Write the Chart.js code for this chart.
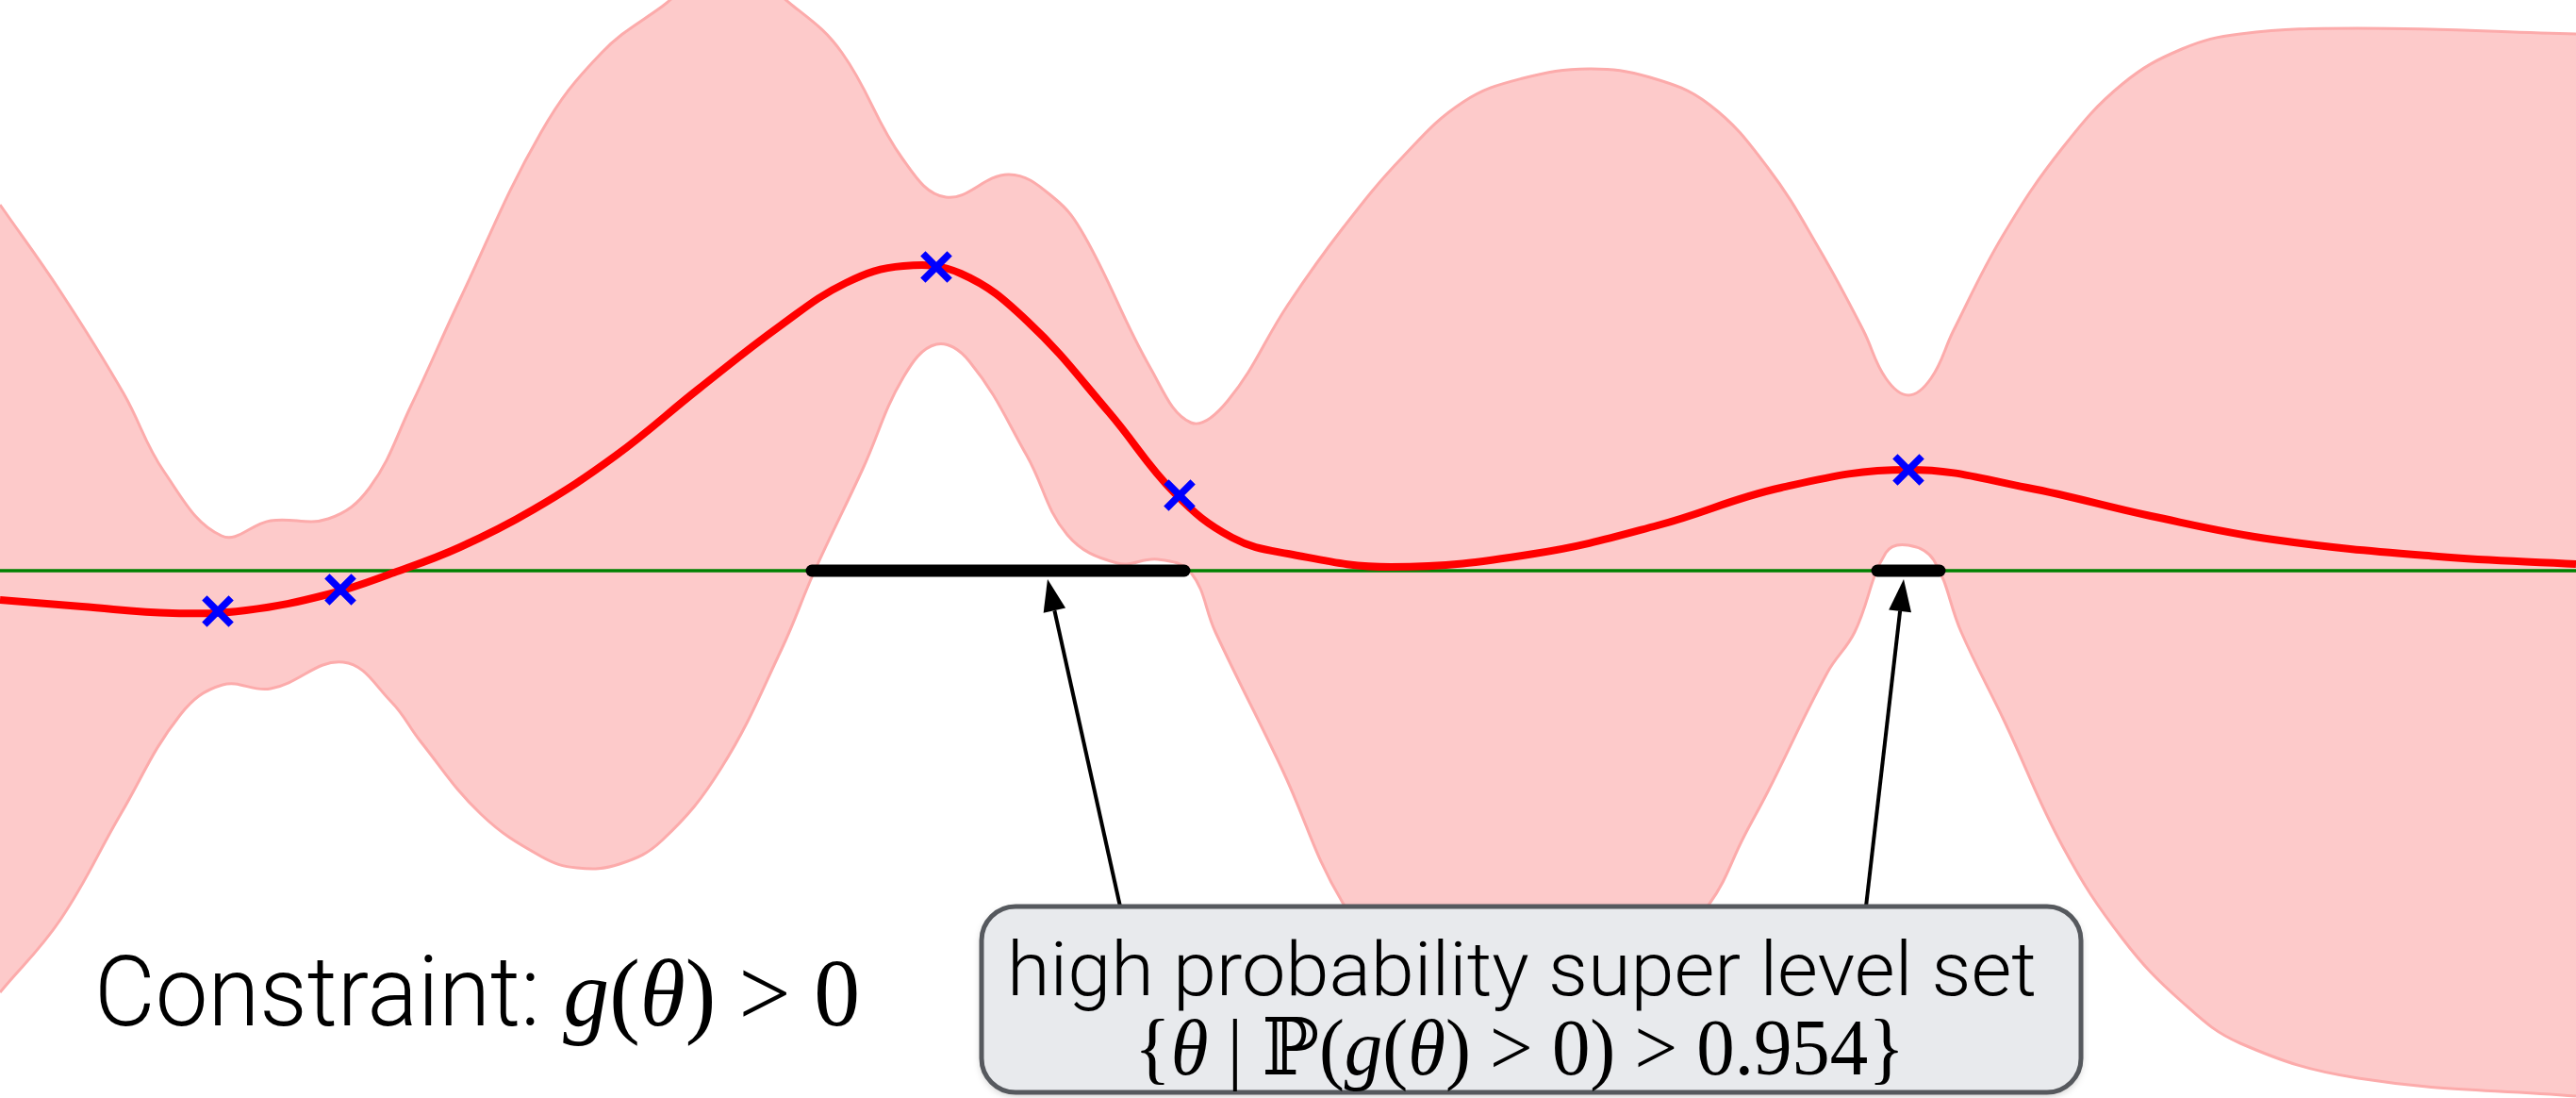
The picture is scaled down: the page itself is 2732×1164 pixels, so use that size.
<!DOCTYPE html>
<html>
<head>
<meta charset="utf-8">
<script src="https://cdn.jsdelivr.net/npm/chart.js@4.4.1/dist/chart.umd.min.js"></script>
<style>
  html, body { margin: 0; padding: 0; background: #fff; overflow: hidden; }
  #wrap { width: 2732px; height: 1164px; position: relative; }
</style>
</head>
<body>
<div id="wrap"><canvas id="gpChart"></canvas></div>
<script>
// GP posterior of the constraint g(theta)

// upper edge of the confidence band
const upperTheta = [0, 0.64, 1.31, 1.74, 2.35, 2.87, 3.48, 3.92, 4.36, 4.88, 5.74, 6.38, 7.02, 7.70, 8.42, 8.93, 9.57, 10.03, 10.70, 11.18, 11.50, 12.20, 12.63, 13.02, 13.66, 14.24, 14.88, 15.52, 16.15, 16.85, 17.50, 18.13, 18.75, 19.30, 19.76, 20.00, 20.24, 20.48, 20.72, 21.24, 21.88, 22.51, 23.14, 23.76, 25.01, 27.32];
const upperG = [3.88, 2.96, 1.88, 1.05, 0.37, 0.53, 0.55, 0.88, 1.75, 2.88, 4.65, 5.49, 5.98, 6.45, 5.98, 5.49, 4.37, 3.96, 4.20, 3.95, 3.55, 2.15, 1.57, 1.80, 2.82, 3.63, 4.39, 4.97, 5.22, 5.32, 5.23, 4.94, 4.27, 3.40, 2.55, 2.04, 1.86, 2.04, 2.55, 3.55, 4.49, 5.16, 5.53, 5.69, 5.75, 5.69];

// lower edge of the confidence band
const lowerTheta = [0, 0.64, 1.28, 1.91, 2.36, 2.87, 3.64, 4.15, 4.46, 5.10, 5.74, 6.12, 6.57, 7.02, 7.65, 8.29, 8.64, 9.15, 9.58, 9.93, 10.28, 10.89, 11.32, 11.85, 12.28, 12.63, 12.89, 13.60, 14.24, 14.88, 15.52, 16.15, 16.85, 17.50, 18.13, 18.50, 18.75, 19.38, 19.67, 20.00, 20.24, 20.51, 20.80, 21.26, 21.88, 22.51, 23.14, 23.76, 25.01, 27.32];
const lowerG = [-4.47, -3.70, -2.58, -1.53, -1.21, -1.25, -0.97, -1.39, -1.81, -2.58, -3.03, -3.15, -3.11, -2.86, -2.09, -0.83, 0.00, 1.08, 2.05, 2.40, 2.22, 1.22, 0.38, 0.08, 0.12, -0.02, -0.65, -2.11, -3.52, -4.25, -4.70, -4.80, -4.55, -4.20, -3.53, -2.81, -2.34, -1.08, -0.65, 0.19, 0.27, 0.11, -0.65, -1.60, -2.93, -3.90, -4.57, -5.01, -5.38, -5.57];

// posterior mean
const meanTheta = [0, 0.87, 1.83, 2.61, 3.48, 4.18, 4.88, 5.66, 6.53, 7.40, 8.28, 8.97, 9.58, 10.19, 10.89, 11.76, 12.46, 13.07, 13.66, 14.75, 16.27, 17.58, 18.89, 20.24, 21.50, 22.81, 24.11, 25.86, 27.32];
const meanG = [-0.31, -0.38, -0.45, -0.42, -0.25, -0.02, 0.25, 0.65, 1.22, 1.92, 2.60, 3.05, 3.23, 3.15, 2.65, 1.68, 0.82, 0.35, 0.18, 0.04, 0.18, 0.48, 0.88, 1.07, 0.88, 0.58, 0.33, 0.15, 0.07];

// observations
const obsTheta = [2.31, 3.61, 9.93, 12.51, 20.24];
const obsG = [-0.43, -0.20, 3.22, 0.80, 1.07];

// high probability super level set
const setStart = [8.61, 19.91];
const setEnd = [12.56, 20.57];

// arrows: tail (in box) -> tip (under the set)
const arrowTailTheta = [11.88, 19.79];
const arrowTipTheta = [11.11, 20.19];

const thetaRange = [0, 27.32];
const gRange = [-5.59, 6.05];

const toPoints = (xs, ys) => xs.map((x, i) => ({ x: x, y: ys[i] }));

const SANS = "'Roboto', 'Lato', 'Liberation Sans', sans-serif";
const SERIF = "'Liberation Serif', 'DejaVu Serif', serif";

// draws a row of text runs, squeezed to a target width
function drawRuns(ctx, runs, left, baseline, targetW) {
    let total = 0;
    runs.forEach(r => {
        ctx.font = r.font;
        r.w = ctx.measureText(r.text).width;
        total += r.w;
    });
    ctx.save();
    ctx.translate(left, baseline);
    ctx.scale(targetW / total, 1);
    let x = 0;
    runs.forEach(r => {
        ctx.font = r.font;
        ctx.fillText(r.text, x, 0);
        x += r.w;
    });
    ctx.restore();
}

const annotations = {
    id: 'annotations',
    afterDatasetsDraw(chart) {
        const ctx = chart.ctx;
        const xs = chart.scales.x;
        const ys = chart.scales.y;
        ctx.save();
        ctx.fillStyle = '#000';
        ctx.textBaseline = 'alphabetic';
        ctx.textAlign = 'left';

        // arrows
        const tailY = 961;
        const tipY = ys.getPixelForValue(-0.09);
        for (let i = 0; i < arrowTipTheta.length; i++) {
            const x0 = xs.getPixelForValue(arrowTailTheta[i]);
            const x1 = xs.getPixelForValue(arrowTipTheta[i]);
            const ang = Math.atan2(tipY - tailY, x1 - x0);
            const headL = 34, headW = 12;
            const bx = x1 - headL * Math.cos(ang);
            const by = tipY - headL * Math.sin(ang);
            ctx.strokeStyle = '#000';
            ctx.lineWidth = 4;
            ctx.beginPath();
            ctx.moveTo(x0, tailY);
            ctx.lineTo(bx, by);
            ctx.stroke();
            ctx.beginPath();
            ctx.moveTo(x1, tipY);
            ctx.lineTo(bx + headW * Math.sin(ang), by - headW * Math.cos(ang));
            ctx.lineTo(bx - headW * Math.sin(ang), by + headW * Math.cos(ang));
            ctx.closePath();
            ctx.fill();
        }

        // callout box
        ctx.save();
        ctx.beginPath();
        ctx.roundRect(1041, 961, 1166, 197, 36);
        ctx.shadowColor = 'rgba(0,0,0,0.25)';
        ctx.shadowBlur = 8;
        ctx.shadowOffsetY = 3;
        ctx.fillStyle = '#e8eaed';
        ctx.fill();
        ctx.shadowColor = 'transparent';
        ctx.strokeStyle = '#56595e';
        ctx.lineWidth = 5;
        ctx.stroke();
        ctx.restore();

        ctx.fillStyle = '#000';
        drawRuns(ctx, [{ text: 'high probability super level set', font: '300 80px ' + SANS }], 1068, 1055, 1092);

        const f = '84px ' + SERIF, fi = 'italic 84px ' + SERIF;
        drawRuns(ctx, [
            { text: '{', font: f }, { text: '\u03B8', font: fi }, { text: ' | ', font: f },
            { text: '\u2119(', font: f }, { text: 'g', font: fi }, { text: '(', font: f },
            { text: '\u03B8', font: fi }, { text: ') > 0) > 0.954}', font: f }
        ], 1203, 1139, 817);

        const g = '102px ' + SERIF, gi = 'italic 102px ' + SERIF;
        drawRuns(ctx, [
            { text: 'Constraint: ', font: '300 104px ' + SANS },
            { text: 'g', font: gi }, { text: '(', font: g },
            { text: '\u03B8', font: gi }, { text: ') > 0', font: g }
        ], 100, 1087, 812);

        ctx.restore();
    }
};

const datasets = [
    {
        label: 'observations',
        data: toPoints(obsTheta, obsG),
        showLine: false,
        pointStyle: 'crossRot',
        pointRadius: 20,
        pointBorderWidth: 7.5,
        pointBorderColor: '#0000ff',
        order: 0
    },
    {
        label: 'mean',
        data: toPoints(meanTheta, meanG),
        borderColor: '#ff0000',
        borderWidth: 8,
        tension: 0.4,
        pointRadius: 0,
        order: 1
    }
];

setStart.forEach((s, i) => {
    datasets.push({
        label: 'set ' + (i + 1),
        data: [{ x: s, y: 0 }, { x: setEnd[i], y: 0 }],
        borderColor: '#000',
        borderWidth: 13,
        borderCapStyle: 'round',
        pointRadius: 0,
        order: 2
    });
});

datasets.push({
    label: 'zero',
    data: [{ x: thetaRange[0], y: 0 }, { x: thetaRange[1], y: 0 }],
    borderColor: '#008000',
    borderWidth: 3.5,
    pointRadius: 0,
    order: 3
});

const upperIndex = datasets.length;
datasets.push({
    label: 'upper',
    data: toPoints(upperTheta, upperG),
    borderColor: '#fcabab',
    borderWidth: 3,
    tension: 0.4,
    pointRadius: 0,
    fill: false,
    order: 5
});
datasets.push({
    label: 'lower',
    data: toPoints(lowerTheta, lowerG),
    borderColor: '#fcabab',
    borderWidth: 3,
    tension: 0.4,
    pointRadius: 0,
    fill: { target: upperIndex },
    backgroundColor: '#fdcaca',
    order: 4
});

new Chart(document.getElementById('gpChart'), {
    type: 'line',
    data: { datasets: datasets },
    options: {
        responsive: true,
        maintainAspectRatio: false,
        devicePixelRatio: 1,
        animation: false,
        layout: { padding: 0, autoPadding: false },
        elements: { line: { capBezierPoints: false } },
        scales: {
            x: { type: 'linear', min: thetaRange[0], max: thetaRange[1], display: false },
            y: { type: 'linear', min: gRange[0], max: gRange[1], display: false }
        },
        plugins: {
            legend: { display: false },
            tooltip: { enabled: false },
            filler: { drawTime: 'beforeDatasetsDraw' }
        }
    },
    plugins: [annotations]
});
</script>
</body>
</html>
